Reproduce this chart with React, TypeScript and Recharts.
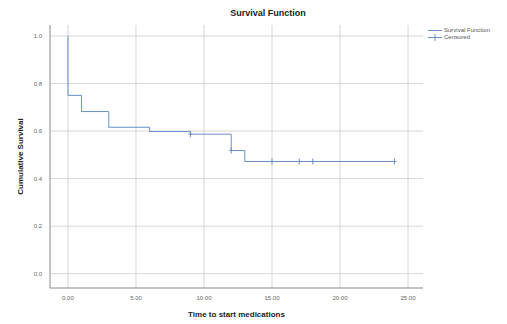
import { ComposedChart, Line, Scatter, XAxis, YAxis, CartesianGrid, Label } from 'recharts';

// Kaplan-Meier steps
const stepTimes = [0, 0, 1, 3, 6, 9, 12, 13, 24];
const stepSurvival = [1.0, 0.75, 0.682, 0.616, 0.598, 0.587, 0.518, 0.472, 0.472];

const censorTimes = [9, 12, 15, 17, 18, 24];
const censorSurvival = [0.587, 0.518, 0.472, 0.472, 0.472, 0.472];

const xTicks = [0, 5, 10, 15, 20, 25];
const yTicks = [0, 0.2, 0.4, 0.6, 0.8, 1.0];

const curve = stepTimes.map((t, i) => ({ t, s: stepSurvival[i] }));
const censored = censorTimes.map((t, i) => ({ t, s: censorSurvival[i] }));

const LINE = '#6a8fc4';
const FONT = '"Liberation Sans", Arial, sans-serif';

const CensorMark = (props: any) => {
  const { cx, cy } = props;
  if (cx == null || cy == null) return null;
  return (
    <g stroke={LINE} strokeWidth={1}>
      <line x1={cx} y1={cy - 3} x2={cx} y2={cy + 3} />
      <line x1={cx - 2} y1={cy} x2={cx + 2} y2={cy} />
    </g>
  );
};

const LegendBox = () => (
  <div
    style={{
      position: 'absolute',
      left: 428,
      top: 27,
      fontFamily: FONT,
      fontSize: 6,
      color: '#555',
      lineHeight: '7px',
    }}
  >
    <div style={{ display: 'flex', alignItems: 'center' }}>
      <svg width={14} height={7}>
        <line x1={0} y1={3.5} x2={14} y2={3.5} stroke={LINE} />
      </svg>
      <span style={{ marginLeft: 2 }}>Survival Function</span>
    </div>
    <div style={{ display: 'flex', alignItems: 'center' }}>
      <svg width={14} height={7}>
        <line x1={0} y1={3.5} x2={14} y2={3.5} stroke={LINE} />
        <line x1={7} y1={0} x2={7} y2={7} stroke={LINE} />
      </svg>
      <span style={{ marginLeft: 2 }}>Censored</span>
    </div>
  </div>
);

export default function App() {
  return (
    <div style={{ position: 'absolute', left: 0, top: 0, width: 507, height: 324, background: '#fff' }}>
      <div
        style={{
          position: 'absolute',
          left: 0,
          width: 536,
          top: 8,
          textAlign: 'center',
          fontFamily: FONT,
          fontWeight: 'bold',
          fontSize: 9,
          color: '#222',
          zIndex: 1,
        }}
      >
        Survival Function
      </div>
      <LegendBox />
      <ComposedChart width={507} height={324} margin={{ top: 25, right: 84, left: 20, bottom: 16 }}>
        <CartesianGrid stroke="#d6d6d6" horizontalValues={yTicks} verticalValues={xTicks} />
        <XAxis
          dataKey="t"
          type="number"
          domain={[-1.32, 26.1]}
          ticks={xTicks}
          tickFormatter={(v: number) => v.toFixed(2)}
          allowDataOverflow
          height={20}
          stroke="#888"
          tickLine={false}
          tick={{ fontSize: 6, fill: '#666', fontFamily: FONT }}
        >
          <Label
            value="Time to start medications"
            position="bottom"
            offset={3}
            style={{ fontSize: 8, fontWeight: 'bold', fill: '#222', fontFamily: FONT }}
          />
        </XAxis>
        <YAxis
          type="number"
          domain={[-0.06, 1.046]}
          ticks={yTicks}
          tickFormatter={(v: number) => v.toFixed(1)}
          allowDataOverflow
          width={30}
          stroke="#888"
          tickLine={false}
          tick={{ fontSize: 6, fill: '#666', fontFamily: FONT }}
        >
          <Label
            value="Cumulative Survival"
            angle={-90}
            position="insideLeft"
            offset={0}
            style={{ fontSize: 8, fontWeight: 'bold', fill: '#222', fontFamily: FONT, textAnchor: 'middle' }}
          />
        </YAxis>
        <Line
          data={curve}
          dataKey="s"
          type="stepAfter"
          stroke={LINE}
          strokeWidth={1}
          dot={false}
          isAnimationActive={false}
          legendType="none"
        />
        <Scatter
          data={censored}
          dataKey="s"
          shape={<CensorMark />}
          isAnimationActive={false}
          legendType="none"
        />
      </ComposedChart>
    </div>
  );
}
